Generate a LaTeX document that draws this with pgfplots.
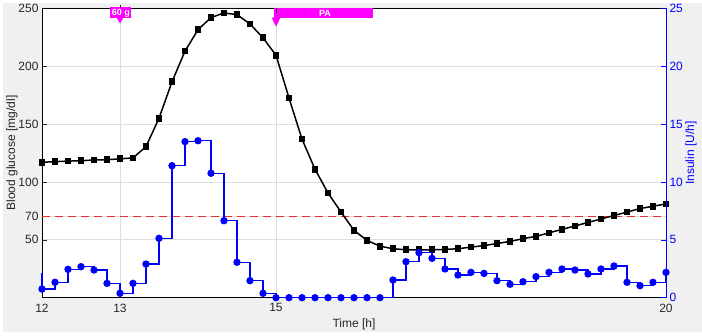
\documentclass[border=0pt]{standalone}
\usepackage{fontspec}
\setmainfont{Liberation Sans}
\usepackage{pgfplots}
\pgfplotsset{compat=1.18}
\usepackage{pgfplotstable}
\definecolor{figbg}{RGB}{240,240,240}
\definecolor{gridc}{RGB}{222,222,222}
\definecolor{refred}{RGB}{228,48,48}
\definecolor{ins}{RGB}{0,0,255}
\definecolor{mag}{RGB}{255,0,255}
\definecolor{txt}{RGB}{38,38,38}

\pgfplotstableread{
t g i
12.0000 117.0 0.75
12.1667 117.5 1.33
12.3333 118.0 2.45
12.5000 118.3 2.68
12.6667 119.0 2.39
12.8333 119.2 1.24
13.0000 120.0 0.38
13.1667 120.7 1.24
13.3333 130.5 2.91
13.5000 155.0 5.13
13.6667 186.5 11.40
13.8333 213.0 13.48
14.0000 231.5 13.56
14.1667 242.0 10.75
14.3333 246.0 6.65
14.5000 244.5 3.06
14.6667 236.5 1.47
14.8333 224.5 0.38
15.0000 209.5 0
15.1667 172.5 0
15.3333 137.0 0
15.5000 111.0 0
15.6667 90.5 0
15.8333 74.0 0
16.0000 58.2 0
16.1667 49.5 0
16.3333 44.5 0
16.5000 42.3 1.53
16.6667 41.4 3.11
16.8333 41.4 3.89
17.0000 41.4 3.40
17.1667 41.7 2.48
17.3333 42.3 1.96
17.5000 43.7 2.19
17.6667 45.0 2.10
17.8333 46.8 1.47
18.0000 48.6 1.16
18.1667 51.0 1.38
18.3333 53.0 1.82
18.5000 56.0 2.19
18.6667 59.0 2.48
18.8333 62.0 2.39
19.0000 65.0 2.05
19.1667 68.0 2.48
19.3333 71.0 2.74
19.5000 74.0 1.33
19.6667 77.0 1.04
19.8333 79.0 1.33
20.0000 81.0 2.19
}\data

\begin{document}
\begin{tikzpicture}
\fill[white] (-42bp,-38.3bp) rectangle (660bp,297.7bp);
\fill[figbg] (-39bp,-34.3bp) rectangle (660bp,294.7bp);
\fill[white] (0,0) rectangle (624bp,289.4bp);
\begin{axis}[
  at={(0,0)}, anchor=south west, scale only axis,
  width=624bp, height=289.4bp,
  xmin=12, xmax=20, ymin=0, ymax=250,
  xtick={12,13,15,20}, ytick={50,70,100,150,200,250},
  xmajorgrids, ymajorgrids, grid style={gridc, line width=0.8bp},
  ytick pos=left,
  tick align=inside, major tick length=5bp,
  tick style={txt, line width=0.6bp},
  axis line style={black, line width=0.8bp},
  ticklabel style={font=\fontsize{12bp}{14bp}\selectfont, text=txt},
  xticklabel style={yshift=-2.5bp},
  /pgf/number format/assume math mode=true,
  xlabel={Time [h]}, ylabel={Blood glucose [mg/dl]},
  label style={font=\fontsize{12bp}{14bp}\selectfont, text=txt},
  xlabel style={at={(axis description cs:0.5,-0.0933)}, anchor=center},
  ylabel style={at={(axis description cs:-0.0481,0.5)}, anchor=center},
]
\addplot[refred, line width=1bp, dash pattern=on 8bp off 5bp] coordinates {(12,70) (20,70)};
\addplot[black, line width=1.5bp, mark=square*, mark size=2.6bp, mark options={solid}] table[x=t,y=g]{\data};
\end{axis}
\begin{axis}[
  at={(0,0)}, anchor=south west, scale only axis,
  width=624bp, height=289.4bp,
  xmin=12, xmax=20, ymin=0, ymax=25,
  axis x line=none, axis y line*=right, clip=false,
  ytick={0,5,10,15,20,25},
  tick align=inside, major tick length=5bp,
  tick style={ins, line width=0.6bp},
  axis line style={ins, line width=0.8bp},
  ticklabel style={font=\fontsize{12bp}{14bp}\selectfont, text=ins},
  /pgf/number format/assume math mode=true,
  ylabel={Insulin [U/h]},
  label style={font=\fontsize{12bp}{14bp}\selectfont, text=ins},
  ylabel style={at={(axis description cs:1.0401,0.5)}, anchor=center},
]
\addplot[ins, line width=1.5bp, no marks] coordinates {(12,2.13) (12,0.75)};
\addplot[ins, line width=1.5bp, const plot, mark=*, mark size=2.9bp, mark options={solid}] table[x=t,y=i]{\data};
% event annotations
\fill[mag] (axis cs:12.878,25.09) rectangle (axis cs:13.135,24.136);
\fill[mag] (axis cs:12.955,24.2) -- (axis cs:13.045,24.2) -- (axis cs:13.0,23.69) -- cycle;
\node[text=white, font=\bfseries\fontsize{9bp}{10bp}\selectfont, inner sep=0] at (axis cs:13.01,24.6) {60 g};
\fill[mag] (axis cs:14.974,25.0) rectangle (axis cs:16.25,24.136);
\fill[mag] (axis cs:14.943,24.2) -- (axis cs:15.057,24.2) -- (axis cs:15.0,23.42) -- cycle;
\node[text=white, font=\bfseries\fontsize{9bp}{10bp}\selectfont, inner sep=0] at (axis cs:15.628,24.57) {PA};
\draw[txt, line width=0.6bp] (axis cs:15,25) -- ([yshift=-5bp]axis cs:15,25);
\draw[txt, line width=0.6bp] (axis cs:13,25) -- ([yshift=3bp]axis cs:13,25);
\end{axis}
\end{tikzpicture}
\end{document}
